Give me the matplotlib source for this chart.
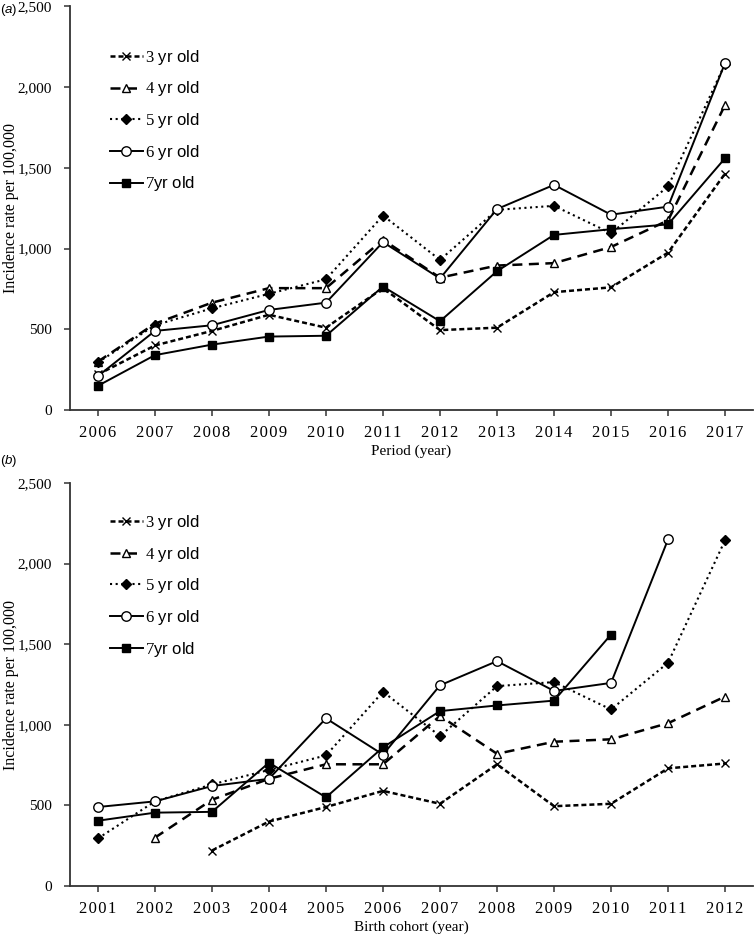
import numpy as np
import matplotlib
matplotlib.use("Agg")
import matplotlib.pyplot as plt
from matplotlib.ticker import FuncFormatter

plt.rcParams['mathtext.fontset'] = 'custom'
plt.rcParams['mathtext.rm'] = 'Liberation Serif'
plt.rcParams['mathtext.it'] = 'Liberation Sans:italic'

nan = np.nan

# ---- Panel (a): period ----
period_years = [2006, 2007, 2008, 2009, 2010, 2011, 2012, 2013, 2014, 2015, 2016, 2017]
period_3yr = [220, 400, 490, 590, 510, 755, 495, 510, 730, 760, 975, 1465]
period_4yr = [300, 535, 665, 755, 755, 1055, 820, 895, 910, 1010, 1175, 1890]
period_5yr = [295, 525, 630, 720, 810, 1205, 930, 1240, 1265, 1095, 1385, 2145]
period_6yr = [210, 490, 525, 620, 665, 1040, 815, 1245, 1395, 1210, 1260, 2150]
period_7yr = [150, 340, 405, 455, 460, 765, 550, 860, 1085, 1120, 1150, 1560]

# ---- Panel (b): birth cohort ----
cohort_years = [2001, 2002, 2003, 2004, 2005, 2006, 2007, 2008, 2009, 2010, 2011, 2012]
cohort_3yr = [nan, nan, 220, 400, 490, 590, 510, 755, 495, 510, 730, 760]
cohort_4yr = [nan, 300, 535, 665, 755, 755, 1055, 820, 895, 910, 1010, 1175]
cohort_5yr = [295, 525, 630, 720, 810, 1205, 930, 1240, 1265, 1095, 1385, 2145]
cohort_6yr = [490, 525, 620, 665, 1040, 815, 1245, 1395, 1210, 1260, 2150, nan]
cohort_7yr = [405, 455, 460, 765, 550, 860, 1085, 1120, 1150, 1560, nan, nan]

labels = [r"$\mathrm{3}$ yr old", r"$\mathrm{4}$ yr old", r"$\mathrm{5}$ yr old",
          r"$\mathrm{6}$ yr old", r"$\mathrm{7}$yr old"]
yticks = [0, 500, 1000, 1500, 2000, 2500]

styles = [
    dict(ls=(0, (2.0, 1.2)), lw=1.8, marker='x', ms=5.5, mfc='black', mew=1.0),
    dict(ls=(0, (4.0, 2.6)), lw=1.8, marker='^', ms=6, mfc='white', mew=1.0),
    dict(ls=(0, (1.0, 1.7)), lw=1.5, marker='D', ms=5, mfc='black', mew=1.0),
    dict(ls='-', lw=1.4, marker='o', ms=6.8, mfc='white', mew=1.0),
    dict(ls='-', lw=1.4, marker='s', ms=6, mfc='black', mew=1.0),
]

HS = "\u200a"

W, H = 755, 938
fig = plt.figure(figsize=(W / 100, H / 100), dpi=100)

def px_axes(left, top, right, bottom):
    return fig.add_axes([left / W, 1 - bottom / H, (right - left) / W, (bottom - top) / H])

ax_a = px_axes(70, 6.5, 753, 410)
ax_b = px_axes(70, 483, 753, 886)

def style_axes(ax, xs, series, xlabel, leg_y):
    for vals, st, lab in zip(series, styles, labels):
        ax.plot(xs, vals, color='black', mec='black', label=lab, **st)
    ax.set_xlim(xs[0] - 0.49, xs[-1] + 0.49)
    ax.set_ylim(0, 2500)
    ax.set_xticks(xs)
    ax.set_xticklabels([HS.join(str(x)) for x in xs], family='Liberation Serif', fontsize=12)
    ax.set_yticks(yticks)
    ax.yaxis.set_major_formatter(FuncFormatter(lambda v, p: f"{int(v):,}"))
    for t in ax.get_yticklabels():
        t.set_family('Liberation Serif')
        t.set_fontsize(11)
    ax.spines['top'].set_visible(False)
    ax.spines['right'].set_visible(False)
    for s in ('left', 'bottom'):
        ax.spines[s].set_linewidth(1.3)
        ax.spines[s].set_color('#333333')
    ax.tick_params(axis='x', direction='out', length=4, width=1.1, color='#333333', pad=7)
    ax.tick_params(axis='y', direction='out', length=4, width=1.1, color='#333333', pad=9)
    ax.set_ylabel("Incidence rate per 100,000", family='Liberation Serif', fontsize=11.5)
    ax.yaxis.set_label_coords(-0.075, 0.5)
    ax.set_xlabel(xlabel, family='Liberation Serif', fontsize=11)
    ax.xaxis.set_label_coords(0.5, -0.085)
    ax.legend(loc='upper left', bbox_to_anchor=(0.036, leg_y), frameon=False,
              handlelength=2.0, handletextpad=0.15, labelspacing=0.76,
              prop={'family': 'Liberation Sans', 'size': 12}, numpoints=1)

style_axes(ax_a, period_years, [period_3yr, period_4yr, period_5yr, period_6yr, period_7yr],
           "Period (year)", 0.935)
style_axes(ax_b, cohort_years, [cohort_3yr, cohort_4yr, cohort_5yr, cohort_6yr, cohort_7yr],
           "Birth cohort (year)", 0.963)

fig.text(0 / W, 1 - 2 / H, r"($\mathit{a}$)", family='Liberation Sans', fontsize=9.5,
         ha='left', va='top')
fig.text(0 / W, 1 - 461 / H, r"($\mathit{b}$)", family='Liberation Sans', fontsize=9.5,
         ha='left', va='center')

fig.savefig("out.png", dpi=100)
